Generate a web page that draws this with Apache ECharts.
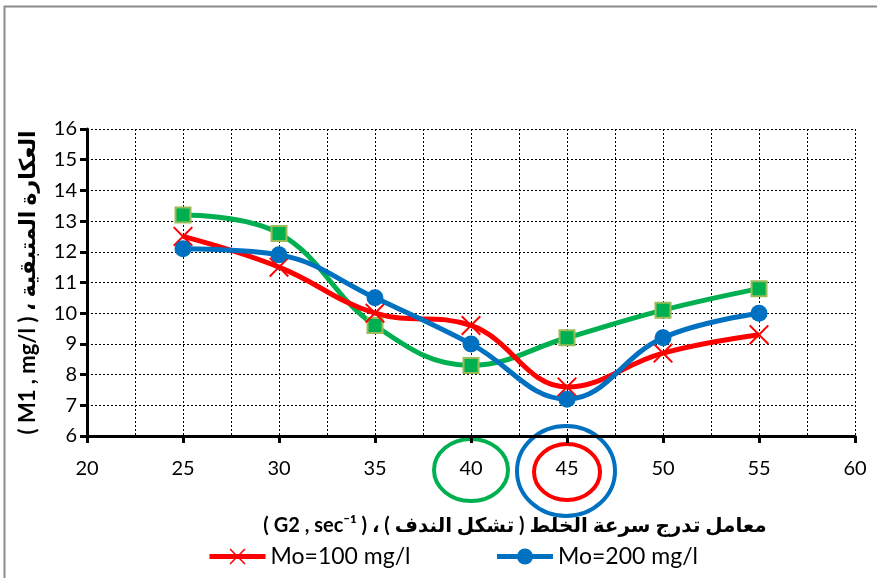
<!DOCTYPE html>
<html>
	<head>
		<meta charset="utf-8" />
		<title></title>
		<script src="https://cdn.jsdelivr.net/npm/echarts@6/dist/echarts.min.js"></script>
		<style>
			body { margin: 0; background: #fff; }
		</style>
	</head>
	<body>
		<div id="chart" style="width: 877px; height: 578px;"></div>
		<script>
		// G2 values
		var xValues = [25, 30, 35, 40, 45, 50, 55];
		var mo100 = [12.5, 11.5, 10.0, 9.6, 7.6, 8.7, 9.3];
		var mo200 = [12.1, 11.9, 10.5, 9.0, 7.2, 9.2, 10.0];
		var mo300 = [13.2, 12.6, 9.6, 8.3, 9.2, 10.1, 10.8];
		var seriesNames = ['Mo=100 mg/l', 'Mo=200 mg/l', 'Mo=300 mg/l'];

		function pairs(ys) {
			return xValues.map(function (x, i) { return [x, ys[i]]; });
		}

		var font = 'Lato, "DejaVu Sans", sans-serif';
		var crossPath = 'path://M0,1.4L1.4,0L10,8.6L18.6,0L20,1.4L11.4,10L20,18.6L18.6,20L10,11.4L1.4,20L0,18.6L8.6,10Z';

		var myChart = echarts.init(document.getElementById('chart'));
		var option = {
			animation: false,
			grid: { left: 87, right: 22, top: 129, bottom: 142 },
			legend: {
				left: 202,
				top: 540,
				itemWidth: 56,
				itemHeight: 20,
				itemGap: 84,
				lineStyle: { width: 5 },
				textStyle: { fontFamily: font, fontSize: 23, color: '#000' },
				data: [seriesNames[0], seriesNames[1]]
			},
			xAxis: {
				type: 'value',
				min: 20,
				max: 60,
				interval: 5,
				name: '( G2 , sec⁻¹ ) ، معامل تدرج سرعة الخلط ( تشكل الندف )',
				nameLocation: 'middle',
				nameGap: 80,
				nameTextStyle: { fontFamily: font, fontSize: 20, fontWeight: 'bold', color: '#000', padding: [0, 0, 0, 88] },
				axisLine: { lineStyle: { color: '#000', width: 3 } },
				axisTick: { show: true, inside: false, length: 7, lineStyle: { color: '#000', width: 3 } },
				axisLabel: { fontFamily: font, fontSize: 20, color: '#000', margin: 23 },
				splitLine: { show: true, lineStyle: { color: '#000', width: 1, type: [2, 2] } },
				minorTick: { show: false, splitNumber: 2 },
				minorSplitLine: { show: true, lineStyle: { color: '#000', width: 1, type: [2, 2] } }
			},
			yAxis: {
				type: 'value',
				min: 6,
				max: 16,
				interval: 1,
				name: '( M1 , mg/l ) ، العكارة المتبقية',
				nameLocation: 'middle',
				nameRotate: 90,
				nameGap: 48,
				nameTextStyle: { fontFamily: font, fontSize: 22, fontWeight: 'bold', color: '#000' },
				axisLine: { show: true, lineStyle: { color: '#000', width: 3 } },
				axisTick: { show: true, inside: false, length: 7, lineStyle: { color: '#000', width: 3 } },
				axisLabel: { fontFamily: font, fontSize: 20, color: '#000', margin: 10 },
				splitLine: { show: true, lineStyle: { color: '#000', width: 1, type: [2, 2] } }
			},
			series: [
				{
					name: seriesNames[0],
					type: 'line',
					smooth: 0.4,
					data: pairs(mo100),
					symbol: crossPath,
					symbolSize: 20,
					lineStyle: { color: '#ff0000', width: 5 },
					itemStyle: { color: '#ff0000' },
					z: 3
				},
				{
					name: seriesNames[1],
					type: 'line',
					smooth: 0.4,
					data: pairs(mo200),
					symbol: 'circle',
					symbolSize: 17,
					lineStyle: { color: '#0070c0', width: 5 },
					itemStyle: { color: '#0070c0' },
					z: 4
				},
				{
					name: seriesNames[2],
					type: 'line',
					smooth: 0.4,
					data: pairs(mo300),
					symbol: 'rect',
					symbolSize: 15,
					lineStyle: { color: '#00b050', width: 5 },
					itemStyle: { color: '#00b050', borderColor: '#9bbb59', borderWidth: 2 },
					z: 2
				}
			]
		};
		myChart.setOption(option);

		// outer frame plus the hand-drawn circles around the 40 and 45 labels
		var axisY = myChart.convertToPixel({ yAxisIndex: 0 }, 6);
		var x40 = myChart.convertToPixel({ xAxisIndex: 0 }, 40);
		var x45 = myChart.convertToPixel({ xAxisIndex: 0 }, 45);
		myChart.setOption({
			graphic: [
				{ type: 'rect', shape: { x: 4.5, y: 6.5, width: 900, height: 600 }, style: { fill: null, stroke: '#8c8c8c', lineWidth: 2 }, silent: true },
				{ type: 'ellipse', shape: { cx: x40, cy: axisY + 34, rx: 37, ry: 31 }, style: { fill: null, stroke: '#00b050', lineWidth: 4 } },
				{ type: 'ellipse', shape: { cx: x45, cy: axisY + 36, rx: 33, ry: 28 }, style: { fill: null, stroke: '#ff0000', lineWidth: 4 } },
				{ type: 'ellipse', shape: { cx: x45 - 1, cy: axisY + 35, rx: 49, ry: 45 }, style: { fill: null, stroke: '#0070c0', lineWidth: 4 } }
			]
		});
		</script>
	</body>
</html>
